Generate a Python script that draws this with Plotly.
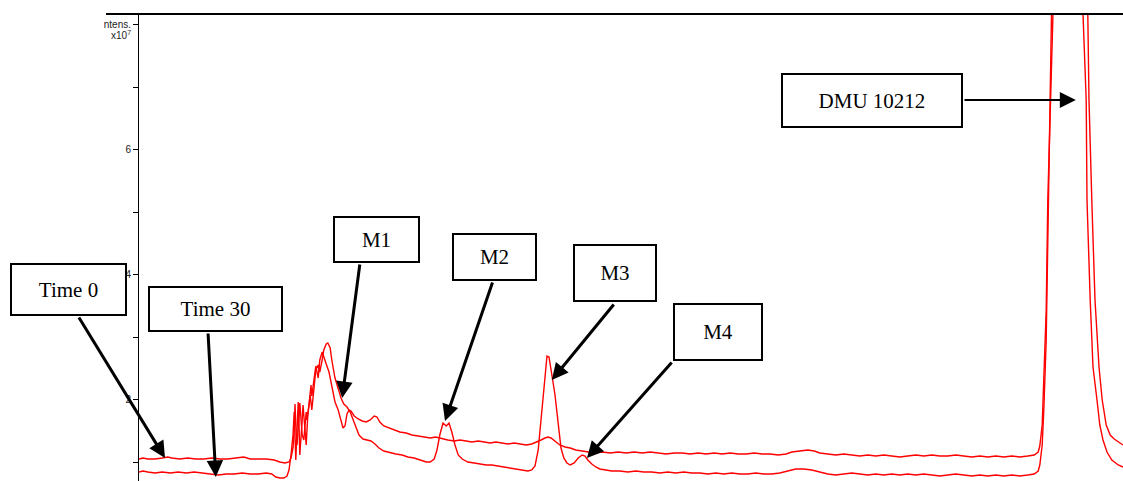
import plotly.graph_objects as go

# Extracted ion chromatograms (retention time in min, intensity in 1e7 counts)
rt_time0 = [
    0.00, 0.10, 0.22, 0.40, 0.58, 0.72, 0.82, 1.02, 1.22, 1.42, 1.62, 1.82, 2.02, 2.22,
    2.42, 2.62, 2.78, 2.98, 3.18, 3.38, 3.52, 3.65, 3.75, 3.80, 3.85, 3.88, 3.90, 3.92,
    3.95, 4.00, 4.02, 4.08, 4.12, 4.18, 4.20, 4.25, 4.30, 4.32, 4.38, 4.42, 4.48, 4.52,
    4.58, 4.62, 4.68, 4.75, 4.82, 4.90, 4.98, 5.05, 5.10, 5.15, 5.20, 5.25, 5.30, 5.38,
    5.48, 5.58, 5.68, 5.78, 5.88, 5.95, 6.02, 6.12, 6.25, 6.38, 6.52, 6.68, 6.82, 6.98,
    7.12, 7.28, 7.42, 7.58, 7.72, 7.88, 8.02, 8.18, 8.32, 8.48, 8.62, 8.78, 8.92, 9.08,
    9.22, 9.38, 9.52, 9.68, 9.82, 9.95, 10.05, 10.15, 10.22, 10.30, 10.40, 10.52, 10.65,
    10.78, 10.92, 11.08, 11.22, 11.40, 11.58, 11.78, 11.98, 12.18, 12.38, 12.58, 12.78,
    12.98, 13.18, 13.38, 13.58, 13.78, 13.98, 14.18, 14.38, 14.58, 14.78, 14.98, 15.18,
    15.38, 15.58, 15.78, 15.98, 16.18, 16.32, 16.52, 16.72, 16.88, 17.02, 17.22, 17.42,
    17.62, 17.82, 18.02, 18.22, 18.42, 18.62, 18.82, 19.02, 19.22, 19.42, 19.62, 19.82,
    20.02, 20.22, 20.42, 20.62, 20.82, 21.02, 21.22, 21.42, 21.62, 21.82, 22.02, 22.22,
    22.38, 22.48, 22.52, 22.58, 22.62, 22.68, 22.72, 22.78, 22.82, 22.92, 23.08, 23.22,
    23.38, 23.52, 23.65, 23.72, 23.75, 23.82, 23.90, 24.00, 24.08, 24.18, 24.28, 24.38,
    24.48, 24.60,
]
int_time0 = [
    1.048, 1.064, 1.048, 1.048, 1.064, 1.080, 1.064, 1.048, 1.064, 1.048, 1.048, 1.064,
    1.048, 1.048, 1.064, 1.080, 1.048, 1.048, 1.048, 1.032, 1.000, 0.984, 1.000, 1.064,
    1.224, 1.512, 1.928, 1.592, 1.272, 1.704, 1.944, 1.432, 1.352, 1.800, 1.672, 1.912,
    2.232, 2.056, 2.312, 2.536, 2.344, 2.632, 2.760, 2.696, 2.568, 2.440, 2.184, 1.960,
    1.832, 1.672, 1.544, 1.576, 1.768, 1.832, 1.816, 1.736, 1.688, 1.656, 1.640, 1.672,
    1.736, 1.720, 1.640, 1.576, 1.544, 1.512, 1.480, 1.464, 1.432, 1.416, 1.400, 1.384,
    1.400, 1.368, 1.352, 1.336, 1.352, 1.336, 1.320, 1.336, 1.320, 1.304, 1.320, 1.304,
    1.288, 1.304, 1.288, 1.272, 1.288, 1.320, 1.352, 1.384, 1.400, 1.384, 1.336, 1.272,
    1.240, 1.224, 1.192, 1.176, 1.160, 1.144, 1.160, 1.144, 1.160, 1.144, 1.160, 1.144,
    1.160, 1.144, 1.128, 1.144, 1.144, 1.128, 1.144, 1.128, 1.144, 1.128, 1.144, 1.128,
    1.128, 1.144, 1.128, 1.128, 1.112, 1.128, 1.160, 1.176, 1.192, 1.176, 1.144, 1.128,
    1.112, 1.128, 1.112, 1.096, 1.112, 1.096, 1.112, 1.096, 1.080, 1.096, 1.112, 1.096,
    1.112, 1.096, 1.096, 1.112, 1.096, 1.080, 1.096, 1.080, 1.096, 1.080, 1.096, 1.080,
    1.096, 1.112, 1.160, 1.256, 1.592, 2.232, 3.432, 5.192, 7.272, 9.672, 13.19, 16.07,
    16.71, 15.91, 13.19, 9.992, 8.168, 6.792, 5.192, 3.592, 2.520, 1.992, 1.592, 1.432,
    1.368, 1.320, 1.272,
]

rt_time30 = [
    0.00, 0.10, 0.22, 0.40, 0.58, 0.78, 0.98, 1.18, 1.38, 1.58, 1.78, 1.98, 2.18, 2.38,
    2.58, 2.78, 2.98, 3.18, 3.32, 3.42, 3.52, 3.62, 3.70, 3.75, 3.80, 3.85, 3.88, 3.90,
    3.92, 3.95, 3.98, 4.00, 4.02, 4.08, 4.10, 4.15, 4.18, 4.22, 4.28, 4.32, 4.38, 4.42,
    4.48, 4.52, 4.58, 4.62, 4.68, 4.72, 4.78, 4.82, 4.90, 4.98, 5.05, 5.12, 5.20, 5.28,
    5.35, 5.42, 5.50, 5.60, 5.70, 5.80, 5.90, 6.00, 6.12, 6.28, 6.42, 6.58, 6.72, 6.88,
    7.02, 7.18, 7.28, 7.38, 7.45, 7.52, 7.60, 7.68, 7.75, 7.82, 7.90, 7.98, 8.08, 8.22,
    8.38, 8.52, 8.68, 8.82, 8.98, 9.12, 9.28, 9.42, 9.58, 9.72, 9.82, 9.90, 9.98, 10.05,
    10.10, 10.15, 10.20, 10.25, 10.30, 10.35, 10.40, 10.45, 10.50, 10.55, 10.62, 10.70,
    10.78, 10.88, 10.98, 11.08, 11.15, 11.22, 11.32, 11.42, 11.52, 11.68, 11.82, 12.02,
    12.22, 12.42, 12.62, 12.82, 13.02, 13.22, 13.42, 13.62, 13.82, 14.02, 14.22, 14.42,
    14.62, 14.82, 15.02, 15.22, 15.42, 15.62, 15.82, 16.02, 16.22, 16.42, 16.62, 16.82,
    17.02, 17.22, 17.42, 17.62, 17.82, 18.02, 18.22, 18.42, 18.62, 18.82, 19.02, 19.22,
    19.42, 19.62, 19.82, 20.02, 20.22, 20.42, 20.62, 20.82, 21.02, 21.22, 21.42, 21.62,
    21.82, 22.02, 22.22, 22.38, 22.48, 22.52, 22.58, 22.62, 22.68, 22.72, 22.78, 22.82,
    22.92, 23.08, 23.22, 23.38, 23.48, 23.58, 23.60, 23.68, 23.70, 23.78, 23.85, 23.95,
    24.02, 24.10, 24.20, 24.32, 24.48, 24.60,
]
int_time30 = [
    0.840, 0.856, 0.840, 0.824, 0.840, 0.824, 0.840, 0.824, 0.840, 0.824, 0.808, 0.792,
    0.808, 0.808, 0.824, 0.808, 0.808, 0.824, 0.808, 0.760, 0.744, 0.744, 0.776, 0.872,
    1.112, 1.432, 1.800, 1.352, 1.032, 1.512, 1.960, 1.592, 1.112, 1.672, 1.912, 1.512,
    1.272, 1.752, 2.072, 1.832, 2.232, 2.472, 2.552, 2.440, 2.632, 2.792, 2.888, 2.904,
    2.824, 2.632, 2.344, 2.152, 2.024, 1.928, 1.880, 1.800, 1.672, 1.544, 1.432, 1.368,
    1.352, 1.336, 1.288, 1.224, 1.176, 1.144, 1.128, 1.112, 1.080, 1.064, 1.032, 1.000,
    1.000, 1.048, 1.192, 1.432, 1.624, 1.576, 1.624, 1.480, 1.272, 1.112, 1.048, 1.000,
    0.984, 0.968, 0.952, 0.952, 0.936, 0.920, 0.904, 0.888, 0.872, 0.856, 0.872, 0.936,
    1.192, 1.672, 2.072, 2.472, 2.696, 2.680, 2.440, 2.280, 2.072, 1.752, 1.480, 1.224,
    1.064, 0.984, 0.952, 0.984, 1.064, 1.112, 1.096, 1.032, 0.968, 0.920, 0.888, 0.872,
    0.856, 0.856, 0.840, 0.856, 0.840, 0.840, 0.824, 0.840, 0.824, 0.840, 0.824, 0.824,
    0.808, 0.824, 0.808, 0.824, 0.808, 0.808, 0.824, 0.808, 0.808, 0.824, 0.856, 0.888,
    0.888, 0.872, 0.840, 0.808, 0.792, 0.808, 0.824, 0.808, 0.792, 0.808, 0.792, 0.808,
    0.792, 0.808, 0.792, 0.808, 0.792, 0.776, 0.792, 0.808, 0.792, 0.776, 0.792, 0.776,
    0.792, 0.776, 0.792, 0.776, 0.792, 0.808, 0.856, 0.952, 1.272, 1.832, 2.952, 4.552,
    6.632, 8.872, 12.39, 15.27, 15.75, 14.79, 11.91, 9.032, 8.168, 6.792, 5.192, 3.592,
    2.520, 1.992, 1.592, 1.352, 1.160, 1.032, 0.952, 0.920,
]

# Callout labels and the chromatogram points they point at
box_labels = ["Time 0", "Time 30", "M1", "M2", "M3", "M4", "DMU 10212"]
target_rt = [0.65, 1.92, 5.08, 7.65, 10.32, 11.20, 23.42]
target_int = [1.064, 0.760, 2.024, 1.656, 2.312, 1.064, 6.792]

y_tickvals = [1, 2, 3, 4, 5, 6, 7, 8]
y_ticktext = ["", "2", "", "4", "", "6", "", "ntens."]

# Page geometry
W, H = 1123, 481
ML, MT = 139, 14
PW, PH = W - ML, H - MT
X_RANGE = [0.0, 24.6]
Y_RANGE = [0.696, 8.168]

# Callout boxes (left, top, right, bottom) and arrow tail points, in page pixels
box_rects = [
    (10, 263, 127, 316),
    (148, 286, 283, 332),
    (333, 216, 420, 263),
    (452, 233, 537, 281),
    (573, 244, 657, 302),
    (673, 303, 763, 361),
    (781, 73, 963, 128),
]
arrow_tails = [
    (78, 316), (208, 332), (360, 263), (493, 281), (615, 303), (673, 361), (963, 100),
]
arrow_widths = [3, 3, 3, 3, 3, 3, 2]
arrow_sizes = [1.1, 1.1, 1.1, 1.1, 1.1, 1.1, 1.6]


def paper_x(px):
    return (px - ML) / PW


def paper_y(py):
    return (H - py) / PH


def data_to_px(t, v):
    px = ML + (t - X_RANGE[0]) / (X_RANGE[1] - X_RANGE[0]) * PW
    py = MT + (Y_RANGE[1] - v) / (Y_RANGE[1] - Y_RANGE[0]) * PH
    return px, py


fig = go.Figure()
fig.add_trace(go.Scatter(x=rt_time0, y=int_time0, mode="lines",
                         line=dict(color="#ff0000", width=1.4), name="Time 0"))
fig.add_trace(go.Scatter(x=rt_time30, y=int_time30, mode="lines",
                         line=dict(color="#ff0000", width=1.4), name="Time 30"))

annotations = []
# arrows first so the boxes sit on top of their tails
for t, v, (tx, ty), aw, asz in zip(target_rt, target_int, arrow_tails, arrow_widths, arrow_sizes):
    hx, hy = data_to_px(t, v)
    annotations.append(dict(
        x=t, y=v, xref="x", yref="y", text="", showarrow=True,
        ax=tx - hx, ay=ty - hy, axref="pixel", ayref="pixel",
        arrowhead=2, arrowsize=asz, arrowwidth=aw, arrowcolor="black", standoff=0,
    ))
for label, (l, t, r, b) in zip(box_labels, box_rects):
    annotations.append(dict(
        x=paper_x((l + r) / 2), y=paper_y((t + b) / 2), xref="paper", yref="paper",
        xanchor="center", yanchor="middle", text=label, showarrow=False,
        width=(r - l) - 4, height=(b - t) - 4, align="center", valign="middle",
        bgcolor="white", bordercolor="black", borderwidth=2, borderpad=0,
        font=dict(family="Liberation Serif", size=21, color="black"),
    ))
annotations.append(dict(
    x=paper_x(133), y=paper_y(35), xref="paper", yref="paper",
    xanchor="right", yanchor="middle", text="x10<sup>7</sup>", showarrow=False,
    font=dict(family="Liberation Sans", size=10, color="#222"),
))

fig.update_layout(
    width=W, height=H,
    margin=dict(l=ML, r=0, t=MT, b=0, pad=0),
    paper_bgcolor="white", plot_bgcolor="white",
    showlegend=False,
    annotations=annotations,
    shapes=[dict(type="line", xref="paper", yref="paper", x0=paper_x(106), x1=1,
                 y0=1, y1=1, line=dict(color="black", width=2), layer="above")],
    xaxis=dict(range=X_RANGE, showline=False, showticklabels=False, showgrid=False,
               zeroline=False, ticks=""),
    yaxis=dict(range=Y_RANGE, tickvals=y_tickvals, ticktext=y_ticktext,
               showline=True, linecolor="black", linewidth=1, ticks="outside",
               ticklen=5, tickcolor="black", tickwidth=1, showgrid=False, zeroline=False,
               tickfont=dict(family="Liberation Sans", size=10, color="#222")),
)

fig.write_html("out.html")
